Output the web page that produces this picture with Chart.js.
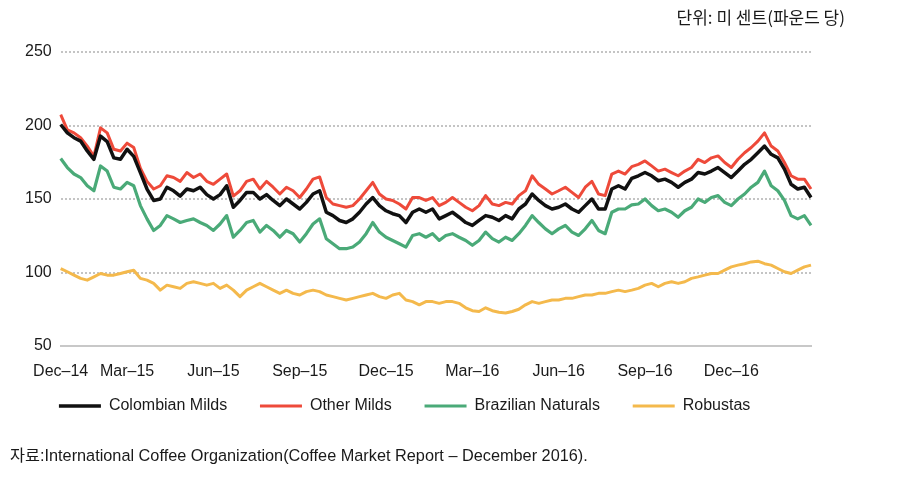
<!DOCTYPE html>
<html>
<head>
<meta charset="utf-8">
<script src="https://cdn.jsdelivr.net/npm/chart.js@4.4.1/dist/chart.umd.min.js"></script>
<style>
html, body { margin: 0; padding: 0; background: #fff; }
#wrap { position: relative; width: 904px; height: 480px; }
#unit { position: absolute; right: 59px; top: 4px; font: 17px "Noto Sans CJK KR", sans-serif; color: #1a1a1a; }
#src { position: absolute; left: 10px; top: 442px; font: 16.3px "Liberation Sans", "Noto Sans CJK KR", sans-serif; color: #1a1a1a; }
</style>
</head>
<body>
<div id="wrap">
  <canvas id="myChart" width="904" height="480"></canvas>
  <div id="unit">단위: 미 센트(파운드 당)</div>
  <div id="src">자료:International Coffee Organization(Coffee Market Report – December 2016).</div>
</div>
<script>
// weekly readings, Dec-14 .. Feb-17 (US cents per lb)
const colombian = [200.7,195,191.7,189.4,182.7,177,192.8,189,178,177,183.8,179,168,156.8,149,150,158,155.6,152,156.8,
  155.6,158,153,150,153,159,144.4,149,154.5,154.5,150,153,149,145.5,150,146.6,143.2,147.7,153.4,155.6,
  141,138.7,135.4,134,136.5,141,146.6,151,145.5,142,140,138.7,134,141,143.2,141,143.2,136.5,138.7,141,
  137.6,134,132,135.4,138.7,137.6,135.4,138.7,136.5,143.2,146.6,153.4,149,145.5,143.2,144.4,146.6,143.2,141,145.5,
  150,143.2,143.2,156.8,159,156.8,164,165.8,168,165.8,162.4,163.5,161.3,158,161.3,163.5,168,167,169,171.4,
  168,164.6,169,173.6,177,181.5,186,180.4,178,170.3,160,156.8,158,151];
const otherMilds = [207.4,197,195,191.7,186,179,198.4,195,183.8,182.7,188,185,171,162,156.8,159,165.8,164.6,162,168,
  164.6,167,162,160,163.5,167,152,155.6,162,163.5,156.8,162,158,153.4,158,155.6,151,156.8,163.5,165,
  151,146.6,145.5,144.4,145.5,150,155.6,161.3,153.4,150,149,146.6,143.2,151,151,149,151,145.5,147.7,151,
  147.7,144.4,142,145.5,152.3,146.6,145.5,147.7,146.6,152.3,155.6,165.8,160,156.8,153.4,155.6,158,154.5,151,158,
  162,153.4,152.3,167,169,167,172,173.6,175.9,172.5,169,170.3,168,165.8,169,171.4,177,174.8,178,179.3,
  174.8,171.4,177,181.5,185,189.4,195,186,182.7,174.8,165.8,163.5,163.5,156.8];
const brazilian = [177.5,171.4,167,164.6,159,155.6,172.5,169,158,156.8,161.3,159,145.5,136.5,128.6,132,138.7,136.5,134,135.4,
  136.5,134,132,128.6,133,138.7,124,128.6,134,135.4,127.5,132,128.6,124,128.6,126.4,120.7,126.4,133,136.5,
  123,119.6,116.2,116.2,117.3,120.7,126.4,134,127.5,124,121.8,119.6,117.3,125.2,126.4,124,126.4,121.8,125.2,126.4,
  124,121.8,118.5,121.8,127.5,123,120.7,124,121.8,126.4,132,138.7,134,129.7,126.4,129.7,132,127.5,125.2,129.7,
  135.4,128.6,126.4,141,143.2,143.2,146,146.6,150,145.5,142,143.2,141,137.6,142,144.4,150,147.7,151,152.3,
  147.7,145.5,150,153.4,158,161.3,169,159,155.6,149,138.7,136.5,138.7,132];
const robustas = [102.7,100.5,98.2,96,94.8,97,99.3,98.2,98.2,99.3,100.5,101.5,96,94.8,92.6,88,91.4,90.3,89.2,92.6,
  93.7,92.6,91.4,92.6,89.2,91.4,88,83.6,88,90.3,92.6,90.3,88,85.8,88,85.8,84.7,87,88,87,
  84.7,83.6,82.4,81.3,82.4,83.6,84.7,85.8,83.6,82.4,84.7,85.8,81.3,80.2,78,80.2,80.2,79,80.2,80.2,
  79,76,74,73.5,76,74,73,72.5,73.5,75,78,80.2,79,80.2,81.3,81.3,82.4,82.4,83.6,84.7,
  84.7,85.8,85.8,87,88,87,88,89.2,91.4,92.6,90.3,92.6,93.7,92.6,93.7,96,97,98.2,99.3,99.3,
  101.6,103.8,105,106,107.2,107.7,106,105,102.7,100.5,99.3,101.6,103.8,105];

const weeks = colombian.map((v, i) => i);
const tickWeeks = [0, 10, 23, 36, 49, 62, 75, 88, 101];
const tickText = ['Dec–14','Mar–15','Jun–15','Sep–15','Dec–15','Mar–16','Jun–16','Sep–16','Dec–16'];

const txt = '#1a1a1a';
Chart.defaults.font.family = '"Liberation Sans", Arial, sans-serif';
Chart.defaults.font.size = 16;
Chart.defaults.color = txt;

function series(label, data, color, width) {
  return {
    label: label, data: data,
    borderColor: color, backgroundColor: color,
    borderWidth: width, pointRadius: 0, tension: 0,
    borderJoinStyle: 'round'
  };
}

const ctx = document.getElementById('myChart').getContext('2d');
const config = {
  type: 'line',
  data: {
    labels: weeks,
    datasets: [
      series('Colombian Milds', colombian, '#111111', 3.5),
      series('Other Milds', otherMilds, '#ee4a3a', 3),
      series('Brazilian Naturals', brazilian, '#4aaa78', 3.2),
      series('Robustas', robustas, '#f4b94c', 3)
    ]
  },
  options: {
    responsive: false,
    animation: false,
    layout: { padding: { left: 16, right: 93, top: 52, bottom: 56 } },
    scales: {
      x: {
        grid: { display: false, drawTicks: false },
        border: { display: true, color: '#c8c8c8', width: 2 },
        ticks: {
          autoSkip: false, maxRotation: 0, minRotation: 0, padding: 16,
          callback: function(v, i) {
            const k = tickWeeks.indexOf(i);
            return k >= 0 ? tickText[k] : '';
          }
        },
        afterFit: function(scale) { scale.height = 37; }
      },
      y: {
        min: 50, max: 250,
        ticks: { stepSize: 50, padding: 9 },
        grid: { color: '#c4c4c4', lineWidth: 2, drawTicks: false },
        border: { display: false, dash: [2, 2] }
      }
    },
    plugins: {
      legend: {
        position: 'bottom',
        align: 'center',
        labels: {
          usePointStyle: true, pointStyle: 'line', pointStyleWidth: 42,
          padding: 15, color: txt,
          // trailing spaces widen the gap between legend items
          generateLabels: function(chart) {
            const items = Chart.defaults.plugins.legend.labels.generateLabels(chart);
            items.forEach(it => { it.text = it.text + '    '; });
            return items;
          }
        }
      },
      tooltip: { enabled: false }
    }
  }
};

//DRAW CHART
var myChart = new Chart(ctx, config);
</script>
</body>
</html>
